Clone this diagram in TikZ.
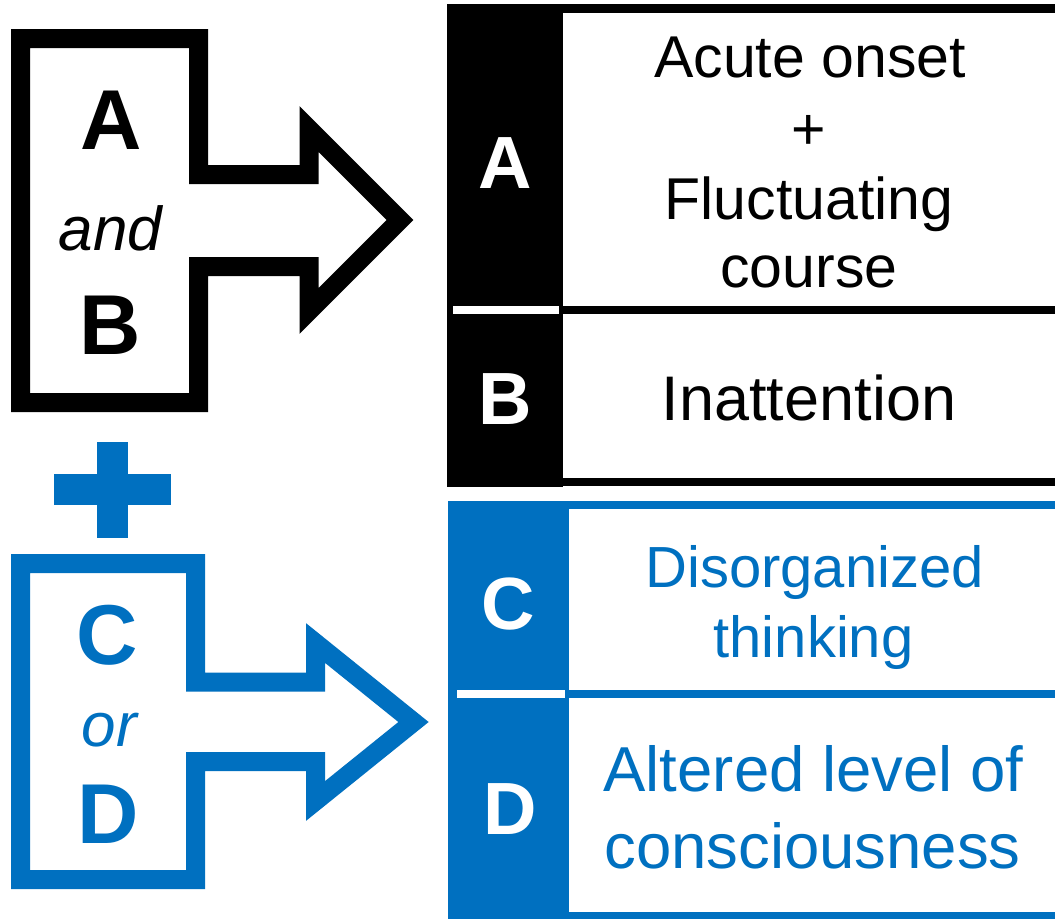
\documentclass[tikz,border=0pt]{standalone}
\usepackage{fontspec}
\setmainfont{Liberation Sans}
\definecolor{cblue}{RGB}{0,112,192}
\begin{document}
\begin{tikzpicture}[x=1pt,y=-1pt,
  outline/.style={line width=19pt, line join=miter, miter limit=10},
  lbl/.style={inner sep=0pt, outer sep=0pt, anchor=base},
  bigletter/.style={lbl, font=\fontsize{85}{85}\selectfont\bfseries},
  conj/.style={lbl, font=\fontsize{62}{62}\selectfont\itshape},
  colletter/.style={lbl, white, font=\fontsize{74}{74}\selectfont\bfseries},
  txtA/.style={lbl, font=\fontsize{59}{70}\selectfont},
  txtB/.style={lbl, font=\fontsize{63}{70}\selectfont},
  txtC/.style={lbl, cblue, font=\fontsize{58}{70}\selectfont},
  txtD/.style={lbl, cblue, font=\fontsize{63.5}{76}\selectfont}]
\useasboundingbox (0,0) rectangle (1055,919);
\fill[white] (0,0) rectangle (1055,919);

% ---- black arrow shape ----
\draw[outline, black] (198.5,38.5) -- (198.5,174.5) -- (309,174.5) -- (309,129)
  -- (400,220) -- (309,311) -- (309,266.5) -- (198.5,266.5) -- (198.5,402.5)
  -- (20.5,402.5) -- (20.5,38.5) -- cycle;
\node[bigletter] (la) at (111,149) {A};
\node[conj] (land) at (110.5,250) {and};
\node[bigletter] (lb) at (110,354) {B};

% ---- plus sign ----
\fill[cblue] (97,442) rectangle (128,538);
\fill[cblue] (54,474) rectangle (171,505);

% ---- blue arrow shape ----
\draw[outline, cblue] (195.5,563.5) -- (195.5,682) -- (315.5,682) -- (315.5,643)
  -- (413.5,722) -- (315.5,801) -- (315.5,761.5) -- (195.5,761.5) -- (195.5,879.5)
  -- (20.5,879.5) -- (20.5,563.5) -- cycle;
\node[bigletter, cblue] (lc) at (107,664) {C};
\node[conj, cblue] (lor) at (109.5,746) {or};
\node[bigletter, cblue] (ld) at (108.3,843) {D};

% ---- top table (black) ----
\fill[black] (446.7,4.3) rectangle (563.3,486.7);
\fill[black] (446.7,4.3) rectangle (1055,13.3);
\fill[black] (563.3,306) rectangle (1055,314.3);
\fill[black] (446.7,477.7) rectangle (1055,485.7);
\fill[white] (453.3,306) rectangle (559.3,314.3);
\node[colletter] (ca) at (505.5,188) {A};
\node[colletter] (cb) at (505,424) {B};
\node[txtA] (ta1) at (810,77) {Acute onset};
\node[txtA] (ta2) at (809,149) {+};
\node[txtA] (ta3) at (809,219) {Fluctuating};
\node[txtA] (ta4) at (809,287) {course};
\node[txtB] (tb1) at (809,420) {Inattention};

% ---- bottom table (blue) ----
\fill[cblue] (448.3,501) rectangle (569,919);
\fill[cblue] (448.3,501) rectangle (1055,509.3);
\fill[cblue] (569,690) rectangle (1055,698);
\fill[cblue] (448.3,912) rectangle (1055,919);
\fill[white] (456.7,690) rectangle (565,698.3);
\node[colletter] (cc) at (508.5,629) {C};
\node[colletter] (cd) at (510,834) {D};
\node[txtC] (tc1) at (814.5,587) {Disorganized};
\node[txtC] (tc2) at (813.5,657) {thinking};
\node[txtD] (td1) at (813.5,791.7) {Altered level of};
\node[txtD] (td2) at (812.5,868) {consciousness};
\end{tikzpicture}
\end{document}
